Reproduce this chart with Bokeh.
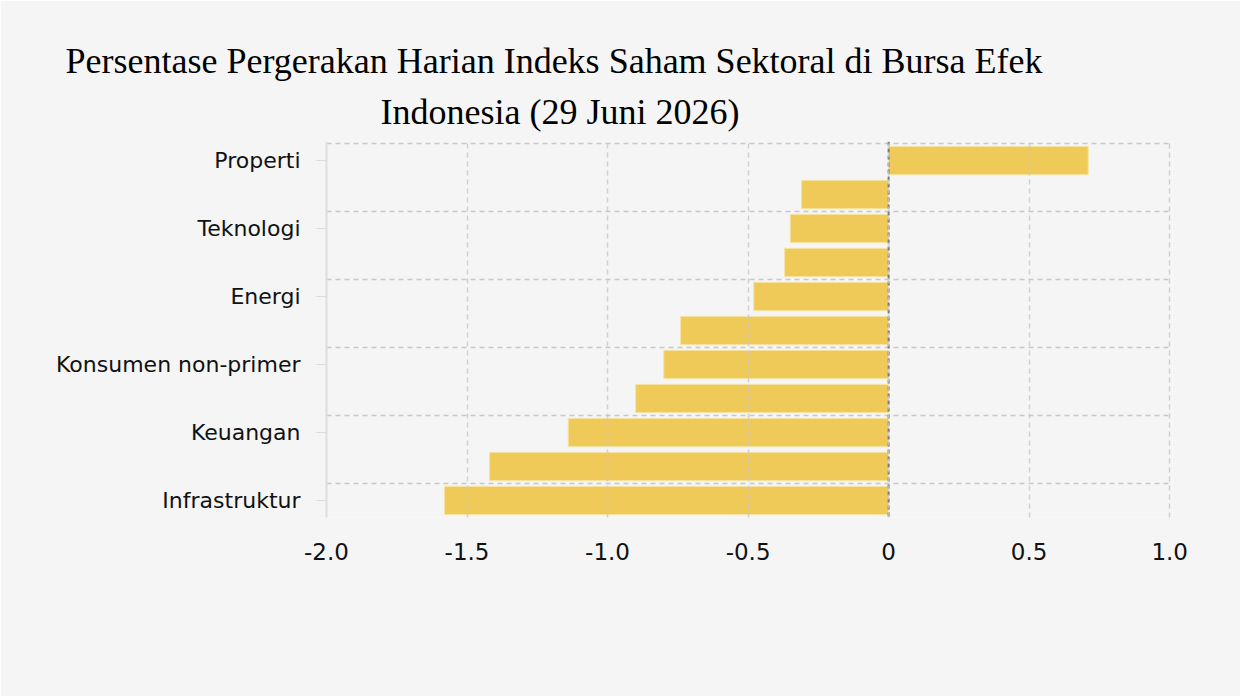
from bokeh.plotting import figure
from bokeh.models import Range1d, FixedTicker, Title, Span, ColumnDataSource
from bokeh.embed import file_html
from bokeh.resources import INLINE

# ---- data ----
sectors = ["Properti", "Kesehatan", "Teknologi", "Barang baku", "Energi",
           "Transportasi & logistik", "Konsumen non-primer", "Perindustrian",
           "Keuangan", "Konsumen primer", "Infrastruktur"]
changes = [0.71, -0.31, -0.35, -0.37, -0.48, -0.74, -0.80, -0.90, -1.14, -1.42, -1.58]
labeled_sectors = ["Properti", "Teknologi", "Energi", "Konsumen non-primer",
                   "Keuangan", "Infrastruktur"]
x_ticks = [-2.0, -1.5, -1.0, -0.5, 0, 0.5, 1.0]
x_tick_labels = ["-2.0", "-1.5", "-1.0", "-0.5", "0", "0.5", "1.0"]
title_lines = ["Persentase Pergerakan Harian Indeks Saham Sektoral di Bursa Efek",
               "Indonesia (29 Juni 2026)"]

n = len(sectors)
pos = [n - 1 - i for i in range(n)]
source = ColumnDataSource(dict(sector=sectors, change=changes, y=pos))

p = figure(width=1240, height=696, output_backend="svg", toolbar_location=None,
           x_range=Range1d(-2.0, 1.01), y_range=Range1d(-0.5, n - 0.44),
           min_border_left=326, min_border_right=68, min_border_top=141,
           min_border_bottom=179, background_fill_color="#f5f5f5",
           border_fill_color="#f5f5f5", outline_line_color=None)
p.title.visible = False

p.hbar(y="y", left=0, right="change", height=0.83, source=source,
       fill_color="#efc54b", fill_alpha=0.92, line_color="#f7e3a0", line_width=1)

zero = Span(location=0, dimension="height", line_color="#7a7a7a",
            line_width=2, line_dash="4 3")
p.add_layout(zero)

# grids
p.xgrid.ticker = FixedTicker(ticks=x_ticks)
p.xgrid.grid_line_color = "#c8c8c8"
p.xgrid.grid_line_width = 1.5
p.xgrid.grid_line_dash = "5 4"
p.xgrid.level = "overlay"
p.xgrid.grid_line_alpha = 0.8
label_pos = [pos[sectors.index(s)] for s in labeled_sectors]
p.ygrid.ticker = FixedTicker(ticks=[v + 0.5 for v in label_pos])
p.ygrid.grid_line_color = "#c8c8c8"
p.ygrid.grid_line_width = 1.5
p.ygrid.grid_line_dash = "5 4"

# axes
p.xaxis.ticker = FixedTicker(ticks=x_ticks)
p.xaxis.major_label_overrides = {t: l for t, l in zip(x_ticks, x_tick_labels)}
p.xaxis.axis_line_color = None
p.xaxis.major_tick_line_color = None
p.xaxis.minor_tick_line_color = None
p.xaxis.major_label_text_font = "DejaVu Sans"
p.xaxis.major_label_text_font_size = "23px"
p.xaxis.major_label_text_color = "#111111"
p.xaxis.major_label_standoff = 19

p.yaxis.ticker = FixedTicker(ticks=label_pos)
p.yaxis.major_label_overrides = {v: s for v, s in zip(label_pos, labeled_sectors)}
p.yaxis.axis_line_color = "#dddddd"
p.yaxis.axis_line_width = 2
p.yaxis.major_tick_line_color = "#dddddd"
p.yaxis.major_tick_out = 10
p.yaxis.major_tick_in = 0
p.yaxis.minor_tick_line_color = None
p.yaxis.major_label_text_font = "DejaVu Sans"
p.yaxis.major_label_text_font_size = "22px"
p.yaxis.major_label_text_color = "#111111"
p.yaxis.major_label_standoff = 16

# title: second line nearest to the frame is added first
p.add_layout(Title(text=title_lines[1], align="left", offset=54,
                   text_font="Liberation Serif", text_font_size="36px",
                   text_font_style="normal", text_color="#000000",
                   standoff=19), "above")
p.add_layout(Title(text=title_lines[0], align="left", offset=-261,
                   text_font="Liberation Serif", text_font_size="36px",
                   text_font_style="normal", text_color="#000000",
                   standoff=0), "above")

open("out.html", "w").write(file_html(p, INLINE))
